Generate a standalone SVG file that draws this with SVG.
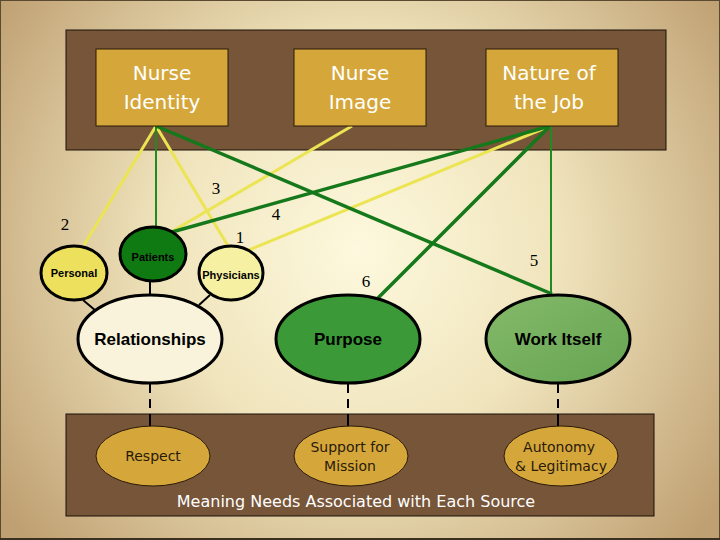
<svg xmlns="http://www.w3.org/2000/svg" width="720" height="540" viewBox="0 0 720 540">
<defs>
<radialGradient id="bg" cx="360" cy="250" r="440" gradientUnits="userSpaceOnUse">
<stop offset="0" stop-color="#fdf9de"/>
<stop offset="0.45" stop-color="#f0e4bc"/>
<stop offset="1" stop-color="#bfa072"/>
</radialGradient>
<linearGradient id="work" x1="0" y1="0" x2="1" y2="1">
<stop offset="0" stop-color="#84ba6a"/>
<stop offset="1" stop-color="#66a452"/>
</linearGradient>
<style>
.panel{fill:#775539;stroke:#1a1208;stroke-width:1}
.box{fill:#d5a73a;stroke:#2a1a08;stroke-width:1}
.boxt{font-family:"DejaVu Sans",sans-serif;font-size:20px;fill:#ffffff;text-anchor:middle}
.ell{stroke:#000;stroke-width:3}
.small{font-family:"Liberation Sans",Arial,sans-serif;font-weight:bold;font-size:11px;fill:#000;text-anchor:middle}
.big{font-family:"Liberation Sans",Arial,sans-serif;font-weight:bold;font-size:17px;fill:#000;text-anchor:middle}
.need{fill:#d5a73a;stroke:#2a1a08;stroke-width:1}
.needt{font-family:"DejaVu Sans",sans-serif;font-size:14px;fill:#2a1a0a;text-anchor:middle}
.num{font-family:"Liberation Serif",serif;font-size:17px;fill:#000;text-anchor:middle}
.yl{stroke:#ebe453;stroke-width:3;fill:none}
.dg{stroke:#15781a;stroke-width:3.5;fill:none}
.tg{stroke:#218a22;stroke-width:2;fill:none}
.blk{stroke:#000;stroke-width:2;fill:none}
.dash{stroke:#000;stroke-width:2;stroke-dasharray:9 6;fill:none}
</style>
</defs>
<rect x="0" y="0" width="720" height="540" fill="url(#bg)"/>
<rect x="0.5" y="0.5" width="719" height="539" fill="none" stroke="#5a4a30" stroke-width="1"/>
<line x1="0" y1="539" x2="720" y2="539" stroke="#3a3020" stroke-width="2"/>

<g id="top-panel">
<rect class="panel" x="66" y="30" width="600" height="120"/>
</g>
<g id="bottom-panel">
<rect class="panel" x="66" y="414" width="588" height="102"/>
<text x="356" y="507" font-family="DejaVu Sans, sans-serif" font-size="16" fill="#ffffff" text-anchor="middle">Meaning Needs Associated with Each Source</text>
</g>

<g id="connectors">
<line class="yl" x1="156" y1="126" x2="84" y2="245"/>
<line class="yl" x1="156" y1="126" x2="228" y2="246"/>
<line class="yl" x1="352" y1="126" x2="171" y2="232"/>
<line class="yl" x1="550" y1="126" x2="249" y2="250"/>
<line class="tg" x1="156" y1="126" x2="156" y2="228"/>
<line class="dg" x1="156" y1="126" x2="552" y2="294"/>
<line class="dg" x1="550" y1="126" x2="172" y2="232"/>
<line class="dg" x1="550" y1="126" x2="378" y2="298"/>
<line class="tg" x1="551" y1="126" x2="551" y2="294"/>
<line class="blk" x1="83" y1="300" x2="96" y2="311"/>
<line class="blk" x1="150" y1="282" x2="150" y2="296"/>
<line class="blk" x1="210" y1="295" x2="199" y2="305"/>
<line class="dash" x1="150" y1="384" x2="150" y2="414"/>
<line class="dash" x1="348" y1="384" x2="348" y2="414"/>
<line class="dash" x1="558" y1="384" x2="558" y2="414"/>
<line class="blk" x1="150" y1="414" x2="150" y2="426"/>
<line class="blk" x1="348" y1="414" x2="348" y2="426"/>
<line class="blk" x1="558" y1="414" x2="558" y2="426"/>
</g>

<g id="nurse-identity">
<rect class="box" x="96" y="49" width="132" height="77"/>
<text class="boxt" x="162" y="80">Nurse</text>
<text class="boxt" x="162" y="109">Identity</text>
</g>
<g id="nurse-image">
<rect class="box" x="294" y="49" width="132" height="77"/>
<text class="boxt" x="360" y="80">Nurse</text>
<text class="boxt" x="360" y="109">Image</text>
</g>
<g id="nature-of-job">
<rect class="box" x="486" y="49" width="132" height="77"/>
<text class="boxt" x="549" y="80">Nature of</text>
<text class="boxt" x="549" y="109">the Job</text>
</g>

<g id="labels">
<text class="num" x="216" y="194">3</text>
<text class="num" x="276" y="220">4</text>
<text class="num" x="65" y="230">2</text>
<text class="num" x="240" y="243">1</text>
<text class="num" x="366" y="287">6</text>
<text class="num" x="534" y="266">5</text>
</g>

<g id="personal">
<ellipse class="ell" cx="74" cy="273" rx="33" ry="27" fill="#ece05c"/>
<text class="small" x="74" y="277">Personal</text>
</g>
<g id="patients">
<ellipse class="ell" cx="153" cy="254" rx="33" ry="27" fill="#0f7a12"/>
<text class="small" x="153" y="261">Patients</text>
</g>
<g id="physicians">
<ellipse class="ell" cx="231" cy="273" rx="32" ry="27" fill="#f6f1a2"/>
<text class="small" x="231" y="279">Physicians</text>
</g>
<g id="relationships">
<ellipse class="ell" cx="150" cy="339" rx="72" ry="44" fill="#f8f3da"/>
<text class="big" x="150" y="345">Relationships</text>
</g>
<g id="purpose">
<ellipse class="ell" cx="348" cy="339" rx="72" ry="44" fill="#3b9a37"/>
<text class="big" x="348" y="345">Purpose</text>
</g>
<g id="work-itself">
<ellipse class="ell" cx="558" cy="339" rx="72" ry="44" fill="url(#work)"/>
<text class="big" x="558" y="345">Work Itself</text>
</g>

<g id="respect">
<ellipse class="need" cx="153" cy="456" rx="57" ry="30"/>
<text class="needt" x="153" y="461">Respect</text>
</g>
<g id="support-for-mission">
<ellipse class="need" cx="351" cy="456" rx="57" ry="30"/>
<text class="needt" x="350" y="452">Support for</text>
<text class="needt" x="350" y="471">Mission</text>
</g>
<g id="autonomy">
<ellipse class="need" cx="561" cy="456" rx="57" ry="30"/>
<text class="needt" x="559" y="452">Autonomy</text>
<text class="needt" x="561" y="471">&amp; Legitimacy</text>
</g>
</svg>
